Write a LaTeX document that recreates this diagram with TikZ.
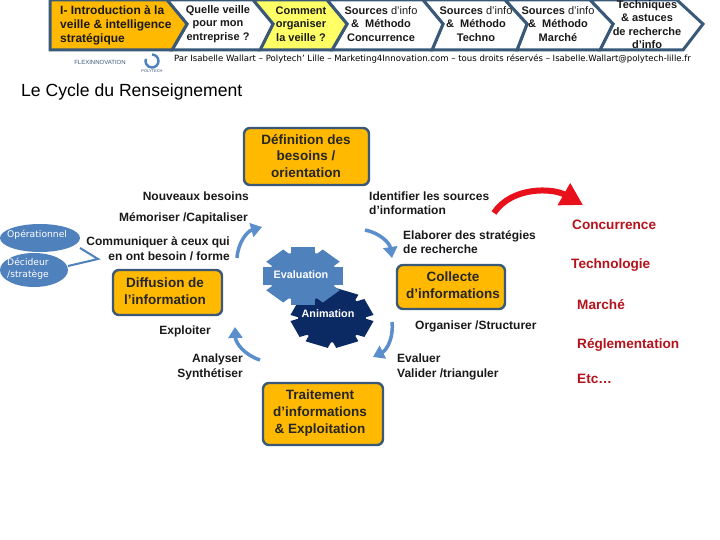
\documentclass[tikz,border=0pt]{standalone}
\usepackage{fontspec}
\setmainfont{Liberation Sans}
\newfontfamily\widefont{DejaVu Sans}
\usetikzlibrary{arrows.meta}
\definecolor{navy}{HTML}{3A5878}
\definecolor{gold}{HTML}{FFB900}
\definecolor{lemon}{HTML}{FFFF66}
\definecolor{steel}{HTML}{4F81BD}
\definecolor{lsteel}{HTML}{5B8FCB}
\definecolor{dnavy}{HTML}{0B2A63}
\definecolor{redarr}{HTML}{E8101A}
\definecolor{redtxt}{HTML}{B5121B}
\tikzset{
 x=1pt,y=-1pt,
 lab/.style={font=\fontsize{12pt}{14.5pt}\selectfont\bfseries,align=center,inner sep=0pt,text=black!90},
 head/.style={font=\fontsize{11pt}{13.5pt}\selectfont\bfseries,align=center,inner sep=0pt,text=black!90},
 chev/.style={draw=navy,line width=3pt,line join=miter},
 cycbox/.style={draw=navy,line width=2.4pt,fill=gold,rounded corners=6pt},
 boxt/.style={font=\fontsize{13.5pt}{16.7pt}\selectfont\bfseries,align=center,inner sep=0pt,text=black!85},
 cycarrow/.style={lsteel,line width=3.5pt,-{Triangle[width=14pt,length=11pt]}},
 side/.style={font=\fontsize{13.6pt}{15pt}\selectfont\bfseries,inner sep=0pt,anchor=west,text=redtxt},
 thinarrow/.style={draw=steel,line width=2pt},
 ovtxt/.style={font=\widefont\fontsize{9.2pt}{12pt}\selectfont,text=white,align=left,inner sep=0pt,anchor=west},
 geartxt/.style={font=\fontsize{10.8pt}{12pt}\selectfont\bfseries,text=white,inner sep=0pt},
}
\newcommand{\mygear}[4]{% cx, cy, colour, tooth offset
 \begin{scope}[shift={(#1,#2)},yscale=.72]
  \fill[#3] (0,0) circle [radius=34];
  \foreach \a in {0,45,...,315}
   \fill[#3,rotate=\a+#4] (28,-12) rectangle (40,12);
 \end{scope}}
\begin{document}
\begin{tikzpicture}
\useasboundingbox (0,0) rectangle (720,540);
\fill[white] (0,0) rectangle (720,540);
% chevrons
\path[chev,fill=white] (590,0) -- (677,0) -- (703,24) -- (683,50) -- (600,50) -- (613,24) -- cycle;
\path[chev,fill=white] (505,0) -- (590,0) -- (613,24) -- (600,50) -- (517,50) -- (527,24) -- cycle;
\path[chev,fill=white] (423,0) -- (505,0) -- (527,24) -- (517,50) -- (432,50) -- (443,24) -- cycle;
\path[chev,fill=white] (327,0) -- (423,0) -- (443,24) -- (432,50) -- (332,50) -- (347,24) -- cycle;
\path[chev,fill=lemon] (253,0) -- (327,0) -- (347,24) -- (332,50) -- (260,50) -- (273,24) -- cycle;
\path[chev,fill=white] (167,0) -- (253,0) -- (273,24) -- (260,50) -- (172,50) -- (187,24) -- cycle;
\path[chev,fill=gold] (50,0) -- (167,0) -- (187,24) -- (172,50) -- (50,50) -- cycle;
\node[head,font=\fontsize{12pt}{14pt}\selectfont\bfseries,align=left,anchor=west] (t1) at (60,25) {I- Introduction à la\\veille \& intelligence\\stratégique};
\node[head] (t2) at (218,24) {Quelle veille\\pour mon\\entreprise ?};
\node[head] (t3) at (301,24) {Comment\\organiser\\la veille ?};
\node[head] (t4) at (381,24) {Sources {\mdseries d'info}\\\&\ \ Méthodo\\Concurrence};
\node[head] (t5) at (476,24) {Sources {\mdseries d'info}\\\&\ \ Méthodo\\Techno};
\node[head] (t6) at (558,24) {Sources {\mdseries d'info}\\\&\ \ Méthodo\\Marché};
\node[head] (t7) at (647,24.5) {Techniques\\\&\ astuces\\de recherche\\d’info};
% logos
\node[font=\fontsize{6pt}{7pt}\selectfont,text=navy,inner sep=0pt] (logo1) at (100,62) {FLEXINNOVATION};
\draw[steel,line width=2.4pt] (152,54.5) arc (-90:200:6.5);
\node[font=\fontsize{4pt}{5pt}\selectfont,text=navy,inner sep=0pt] (logo2) at (152,71) {POLYTECH};
\node[font=\widefont\fontsize{8.55pt}{10pt}\selectfont,inner sep=0pt,anchor=west] (by) at (174,58.5) {Par Isabelle Wallart – Polytech’ Lille – Marketing4Innovation.com – tous droits réservés – Isabelle.Wallart@polytech-lille.fr};
\node[font=\fontsize{17.6pt}{20pt}\selectfont,inner sep=0pt,anchor=west] (title) at (21,92) {Le Cycle du Renseignement};
% boxes
\path[cycbox] (244,128) rectangle (369,185);
\node[boxt] (def) at (306,156) {Définition des\\besoins /\\orientation};
\path[cycbox] (113,270) rectangle (222,315);
\node[boxt] (dif) at (165,291) {Diffusion de\\l’information};
\path[cycbox] (397,265) rectangle (505,309);
\node[boxt] (col) at (453,285) {Collecte\\d’informations};
\path[cycbox] (263,383) rectangle (383,445);
\node[boxt] (tra) at (320,413) {Traitement\\d’informations\\\&\ Exploitation};
% labels
\node[lab,anchor=east] (a1) at (249,196) {Nouveaux besoins};
\node[lab,anchor=east] (a2) at (248,218.5) {Mémoriser /Capitaliser};
\node[lab,align=right,anchor=east] (a3) at (230,248.5) {Communiquer  à ceux qui\\en ont besoin / forme};
\node[lab,align=left,anchor=west] (a4) at (369,203) {Identifier les sources\\d’information};
\node[lab,align=left,anchor=west] (a5) at (403,242) {Elaborer des stratégies\\de recherche};
\node[lab,anchor=west] (a6) at (415,326.5) {Organiser /Structurer};
\node[lab,align=left,anchor=west] (a7) at (397,367) {Evaluer\\Valider /trianguler};
\node[lab,anchor=east] (a8) at (211,331) {Exploiter};
\node[lab,align=right,anchor=east] (a9) at (243,367) {Analyser\\Synthétiser};
% cycle arrows
\coordinate (c1a) at (237,258);
\coordinate (c1b) at (262,227);
\draw[cycarrow] (c1a) to[bend left=35] (c1b);
\coordinate (c2a) at (365,230);
\coordinate (c2b) at (392,258);
\draw[cycarrow] (c2a) to[bend left=35] (c2b);
\coordinate (c3a) at (392,322);
\coordinate (c3b) at (373,357);
\draw[cycarrow] (c3a) to[bend left=35] (c3b);
\coordinate (c4a) at (260,360);
\coordinate (c4b) at (235,327);
\draw[cycarrow] (c4a) to[bend left=35] (c4b);
% gears
\mygear{332}{318}{dnavy}{22.5}
\mygear{303}{276}{steel}{0}
\node[geartxt] (ev) at (301,275) {Evaluation};
\node[geartxt] (an) at (328,314) {Animation};
% ovals
\fill[steel] (40,238) ellipse [x radius=40,y radius=14];
\node[ovtxt] (op) at (7,235) {Opérationnel};
\fill[steel] (34,270) ellipse [x radius=34,y radius=17];
\node[ovtxt] (dec) at (7,269) {Décideur\\/stratège};
\coordinate (j) at (98,259);
\coordinate (oe) at (80,248);
\coordinate (de) at (68,266);
\draw[thinarrow] (oe) -- (j) -- (de);
% red arrow
\coordinate (ra) at (494,213);
\coordinate (rb) at (583,205);
\draw[redarr,line width=6pt,-{Triangle[width=24pt,length=22pt]}] (ra) .. controls (512,186) and (553,188) .. (rb);
% right list
\node[side] (r1) at (572,225) {Concurrence};
\node[side] (r2) at (571,265) {Technologie};
\node[side] (r3) at (577,305) {Marché};
\node[side] (r4) at (577,345) {Réglementation};
\node[side] (r5) at (577,379) {Etc…};
\end{tikzpicture}
\end{document}
